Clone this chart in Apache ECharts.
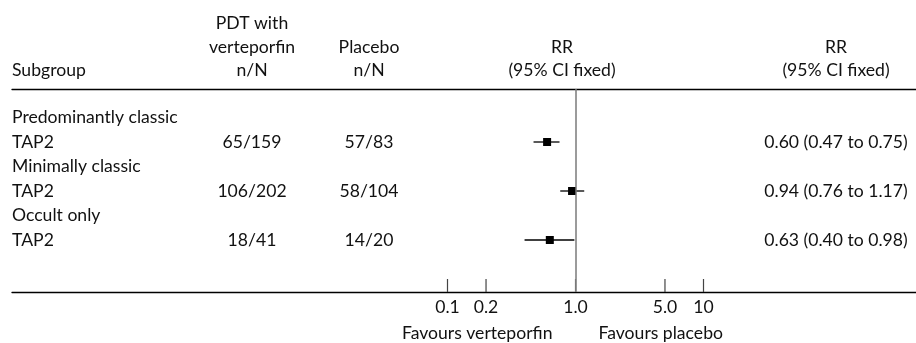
<!DOCTYPE html>
<html>
<head>
<meta charset="utf-8">
<script src="https://cdn.jsdelivr.net/npm/echarts@6/dist/echarts.min.js"></script>
<style>
html,body{margin:0;padding:0;background:#fff;}
#chart{width:916px;height:343px;}
</style>
</head>
<body>
<div id="chart"></div>
<script>
// ---- data ----
const subgroups = ['Predominantly classic', 'Minimally classic', 'Occult only'];
const studies = ['TAP2', 'TAP2', 'TAP2'];
const pdtCounts = ['65/159', '106/202', '18/41'];
const placeboCounts = ['57/83', '58/104', '14/20'];
const rrValues = [0.60, 0.94, 0.63];
const ciLow = [0.47, 0.76, 0.40];
const ciHigh = [0.75, 1.17, 0.98];
const rrLabels = ['0.60 (0.47 to 0.75)', '0.94 (0.76 to 1.17)', '0.63 (0.40 to 0.98)'];
const tickValues = [0.1, 0.2, 1, 5, 10];
const tickLabels = ['0.1', '0.2', '1.0', '5.0', '10'];
const favoursLeft = 'Favours verteporfin';
const favoursRight = 'Favours placebo';

// ---- layout ----
const FONT = 'Lato';
const FS = 17.6;
const TXT = '#111';
const W = 916;
const GRID_LEFT = 12, GRID_TOP = 89, GRID_BOTTOM = 51;
const PX_PER_DECADE = 128;
const ONE_X = 575.5;
const XMIN = Math.pow(10, -(ONE_X - GRID_LEFT) / PX_PER_DECADE);
const XMAX = Math.pow(10, (W - ONE_X) / PX_PER_DECADE);
const ROW_H = 24.5, ROW0_Y = 117.5;
const gridH = 343 - GRID_TOP - GRID_BOTTOM;
const YMIN = -(ROW0_Y - GRID_TOP) / ROW_H;
const YMAX = YMIN + gridH / ROW_H;
const COL_PDT = 252, COL_PLA = 369, COL_RR = 836, COL_PLOT = 562;

const chart = echarts.init(document.getElementById('chart'), null, {renderer: 'canvas'});

function txt(x, y, s, align) {
  return {type: 'text', x: x, y: y, style: {text: s, fill: TXT, font: FS + 'px ' + FONT, align: align || 'center', verticalAlign: 'middle'}};
}

const tableData = subgroups.map((s, i) => [i]);
const forestData = rrValues.map((v, i) => [v, ciLow[i], ciHigh[i], 2 * i + 1]);

const option = {
  animation: false,
  grid: {left: GRID_LEFT, right: 0, top: GRID_TOP, bottom: GRID_BOTTOM},
  xAxis: [
    {type: 'log', min: XMIN, max: XMAX, axisLine: {show: true, onZero: false, lineStyle: {color: '#000', width: 1.3}},
     axisTick: {show: false}, axisLabel: {show: false}, splitLine: {show: false}},
    {type: 'value', position: 'top', min: 0, max: 1, axisLine: {show: true, onZero: false, lineStyle: {color: '#000', width: 1.3}},
     axisTick: {show: false}, axisLabel: {show: false}, splitLine: {show: false}}
  ],
  yAxis: {type: 'value', inverse: true, min: YMIN, max: YMAX, show: false},
  graphic: [
    txt(COL_PDT, 23, 'PDT with'), txt(COL_PDT, 47, 'verteporfin'), txt(COL_PDT, 70, 'n/N'),
    txt(COL_PLA, 47, 'Placebo'), txt(COL_PLA, 70, 'n/N'),
    txt(COL_PLOT, 47, 'RR'), txt(COL_PLOT, 70, '(95% CI fixed)'),
    txt(COL_RR, 47, 'RR'), txt(COL_RR, 70, '(95% CI fixed)'),
    txt(GRID_LEFT, 70, 'Subgroup', 'left')
  ],
  series: [
    {
      type: 'custom', name: 'table', xAxisIndex: 0, yAxisIndex: 0, silent: true,
      data: tableData,
      renderItem: function (params, api) {
        const i = api.value(0);
        const y0 = api.coord([1, 2 * i])[1];
        const y1 = api.coord([1, 2 * i + 1])[1];
        return {type: 'group', children: [
          txt(GRID_LEFT, y0, subgroups[i], 'left'),
          txt(GRID_LEFT, y1, studies[i], 'left'),
          txt(COL_PDT, y1, pdtCounts[i]),
          txt(COL_PLA, y1, placeboCounts[i]),
          txt(COL_RR, y1, rrLabels[i])
        ]};
      }
    },
    {
      type: 'custom', name: 'forest', xAxisIndex: 0, yAxisIndex: 0, silent: true,
      data: forestData,
      renderItem: function (params, api) {
        const c = api.coord([api.value(0), api.value(3)]);
        const l = api.coord([api.value(1), api.value(3)]);
        const h = api.coord([api.value(2), api.value(3)]);
        const s = 8;
        return {type: 'group', children: [
          {type: 'line', shape: {x1: l[0], y1: l[1], x2: h[0], y2: h[1]}, style: {stroke: '#000', lineWidth: 1.3}},
          {type: 'rect', shape: {x: c[0] - s / 2, y: c[1] - s / 2, width: s, height: s}, style: {fill: '#000'}}
        ]};
      },
      markLine: {
        silent: true, symbol: 'none', label: {show: false},
        lineStyle: {color: '#7a7a7a', width: 1.5, type: 'solid'},
        data: [{xAxis: 1}]
      }
    },
    {
      type: 'custom', name: 'ticks', xAxisIndex: 0, yAxisIndex: 0, silent: true,
      data: tickValues.map((v, i) => [v, i]),
      renderItem: function (params, api) {
        const p = api.coord([api.value(0), YMAX]);
        const i = api.value(1);
        return {type: 'group', children: [
          {type: 'line', shape: {x1: p[0], y1: p[1], x2: p[0], y2: p[1] - 13}, style: {stroke: tickValues[i] === 1 ? '#7a7a7a' : '#444', lineWidth: 1.2}},
          txt(p[0], p[1] + 15, tickLabels[i])
        ]};
      }
    },
    {
      type: 'custom', name: 'favours', xAxisIndex: 0, yAxisIndex: 0, silent: true,
      data: [[1]],
      renderItem: function (params, api) {
        const p = api.coord([api.value(0), YMAX]);
        return {type: 'group', children: [
          txt(p[0] - 23, p[1] + 41, favoursLeft, 'right'),
          txt(p[0] + 23, p[1] + 41, favoursRight, 'left')
        ]};
      }
    }
  ]
};
chart.setOption(option);
</script>
</body>
</html>
